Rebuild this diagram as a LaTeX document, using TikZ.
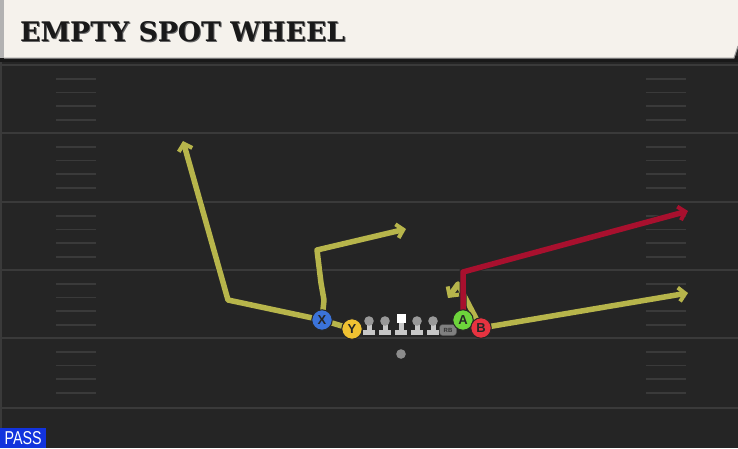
\documentclass[tikz,border=0pt]{standalone}
\usepackage{fontspec}
\setmainfont{Liberation Sans}
\newfontfamily\titlefont{DejaVu Serif}
\usetikzlibrary{arrows.meta}
\definecolor{fieldgray}{HTML}{252525}
\definecolor{linegray}{HTML}{3A3A3A}
\definecolor{bannercream}{HTML}{F5F2EC}
\definecolor{routeyellow}{HTML}{B7B54B}
\definecolor{routered}{HTML}{A8102E}
\definecolor{xblue}{HTML}{3B73D9}
\definecolor{yyellow}{HTML}{F0C232}
\definecolor{agreen}{HTML}{6DD43B}
\definecolor{bred}{HTML}{E63340}
\definecolor{passblue}{HTML}{1233DD}
\tikzset{
  route/.style={line width=5.5pt,line join=round,draw=#1,
    preaction={draw=black!85,line width=7pt}},
  route/.default=routeyellow,
  tip/.style={-{Straight Barb[length=6.5pt,width=14pt,line width=4pt]}},
  player/.style={circle,draw=black!85,line width=1pt,fill=#1,
    minimum size=20.5pt,inner sep=0pt,font=\bfseries\fontsize{13}{13}\selectfont,text=black!85},
}
\begin{document}
\begin{tikzpicture}[x=1pt,y=-1pt]
\useasboundingbox (0,0) rectangle (738,448);
% field and banner
\fill[fieldgray] (0,0) rectangle (738,448);
\fill[black!90] (0,56) rectangle (738,62);
\fill[bannercream] (4,0) -- (738,0) -- (738,46) -- (734,58) -- (4,58) -- cycle;
\draw[black!40,line width=1pt] (4,58) -- (734,58) -- (738,46);
\fill[black!30] (0,0) rectangle (4,58);
\fill[linegray] (0,62) rectangle (2,448);
\node[anchor=south west,inner sep=0pt,text=black!60] (shadow) at (21,43)
  {\resizebox{325pt}{20pt}{\titlefont\bfseries EMPTY SPOT WHEEL}};
\node[anchor=south west,inner sep=0pt,text=black!90] (title) at (20,42)
  {\resizebox{325pt}{20pt}{\titlefont\bfseries EMPTY SPOT WHEEL}};
% yard lines and hash marks
\foreach \yd in {65,133,202,270,338,408}{%
  \draw[linegray,line width=2pt] (2,\yd) -- (738,\yd);
}
\foreach \yd in {65,133,202,270,338}{%
  \foreach \k in {1,...,4}{% four hashes between yard lines
    \draw[linegray,line width=1.8pt] (56,\yd+13.7*\k) -- (96,\yd+13.7*\k);
    \draw[linegray,line width=1.8pt] (646,\yd+13.7*\k) -- (686,\yd+13.7*\k);
  }
}
% route points
\coordinate (Xcut) at (228,300);
\coordinate (Xend) at (183,141);
\coordinate (Sone) at (324,300);
\coordinate (Stwo) at (321,283);
\coordinate (Sbreak) at (317,250);
\coordinate (Send) at (406,229);
\coordinate (Abreak) at (463,272);
\coordinate (Aend) at (688,211);
\coordinate (Bturn) at (458,284);
\coordinate (Bback) at (448,298);
\coordinate (Bend) at (688,293);
\coordinate (Xspot) at (322,320);
\coordinate (Yspot) at (352,329);
\coordinate (Aspot) at (463,320);
\coordinate (Bspot) at (481,328);
% routes
\draw[route] (Yspot) -- (Xspot);
\draw[route,tip] (Xspot) -- (Xcut) -- (Xend);
\draw[route,tip] (Xspot) -- (Sone) -- (Stwo) -- (Sbreak) -- (Send);
\draw[route,tip] (Bspot) -- (Bend);
\draw[route,tip] (Bspot) -- (Bturn) -- (Bback);
\draw[route=routered,tip] (Aspot) -- (Abreak) -- (Aend);
% offensive line
\foreach \x in {369,385,417,433}{%
  \fill[black!22] (\x-6,329.5) rectangle (\x+6,334.5);
  \fill[black!22] (\x-2.5,323) rectangle (\x+2.5,331);
  \fill[black!40] (\x,321) circle (4.8);
}
\fill[black!22] (395,329.5) rectangle (407,334.5);
\fill[black!22] (398.5,322) rectangle (403.5,331);
\fill[white] (396.5,313.5) rectangle (405.5,323);
\node[fill=black!50,draw=black!70,rounded corners=3pt,minimum width=17pt,minimum height=11pt,
  inner sep=0pt,font=\bfseries\fontsize{6}{6}\selectfont,text=black!80] (RB) at (448,330) {RB};
% skill players
\node[player=xblue] (X) at (Xspot) {X};
\node[player=yyellow] (Y) at (Yspot) {Y};
\node[player=agreen] (A) at (Aspot) {A};
\node[player=bred] (B) at (Bspot) {B};
% ball
\fill[black!45] (401,354) circle (4.8);
\node[fill=passblue,anchor=south west,minimum width=46pt,minimum height=20pt,inner sep=0pt,
  text=white] (pass) at (0,448) {\resizebox{37pt}{13pt}{PASS}};
\end{tikzpicture}
\end{document}
